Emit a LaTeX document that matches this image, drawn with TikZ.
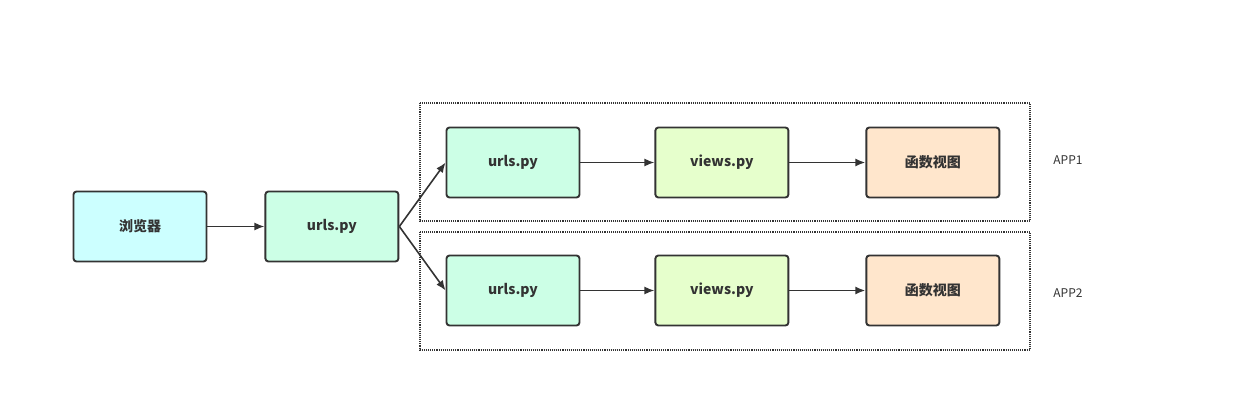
\documentclass[tikz,border=0pt]{standalone}
\usepackage{fontspec}
\setmainfont{Noto Sans CJK SC}
\definecolor{edge}{RGB}{51,51,51}
\definecolor{browserfill}{RGB}{204,255,255}
\definecolor{urlfill}{RGB}{204,255,230}
\definecolor{viewfill}{RGB}{230,255,204}
\definecolor{funcfill}{RGB}{255,230,204}
\usetikzlibrary{arrows.meta,positioning}

\begin{document}
\begin{tikzpicture}[
            x=1pt, y=-1pt,
            node distance=57pt,
            box/.style={rectangle, draw=edge, line width=1.9pt, minimum width=133pt, minimum height=70pt, rounded corners=3pt, font=\fontsize{14}{16}\selectfont\bfseries, text=edge},
            arrow/.style={-{Latex[length=10pt,width=8pt]}, line width=1.6pt, edge},
            group/.style={draw=edge, densely dotted, line width=1.1pt},
            applabel/.style={font=\fontsize{12}{14}\selectfont, text=edge}
        ]
            \useasboundingbox (0,0) rectangle (1244,404);
            % apps
            \draw[group] (420,103) rectangle (1030,221);
            \draw[group] (420,232) rectangle (1030,350);
            \node[applabel] (app1) at (1068,160) {APP1};
            \node[applabel] (app2) at (1068,293) {APP2};

            \node[box, fill=browserfill] (browser) at (140,226.5) {浏览器};
            \node[box, fill=urlfill, right=of browser] (urls) {urls.py};

            \node[box, fill=urlfill] (urlsa) at (513,162.5) {urls.py};
            \node[box, fill=viewfill, right=74pt of urlsa] (viewsa) {views.py};
            \node[box, fill=funcfill, right=76pt of viewsa] (funca) {函数视图};

            \node[box, fill=urlfill] (urlsb) at (513,290.5) {urls.py};
            \node[box, fill=viewfill, right=74pt of urlsb] (viewsb) {views.py};
            \node[box, fill=funcfill, right=76pt of viewsb] (funcb) {函数视图};

            \draw[arrow] (browser) -- (urls);
            \draw[arrow] (urls.east) -- (urlsa.west);
            \draw[arrow] (urls.east) -- (urlsb.west);
            \draw[arrow] (urlsa) -- (viewsa);
            \draw[arrow] (viewsa) -- (funca);
            \draw[arrow] (urlsb) -- (viewsb);
            \draw[arrow] (viewsb) -- (funcb);
        \end{tikzpicture}
\end{document}
